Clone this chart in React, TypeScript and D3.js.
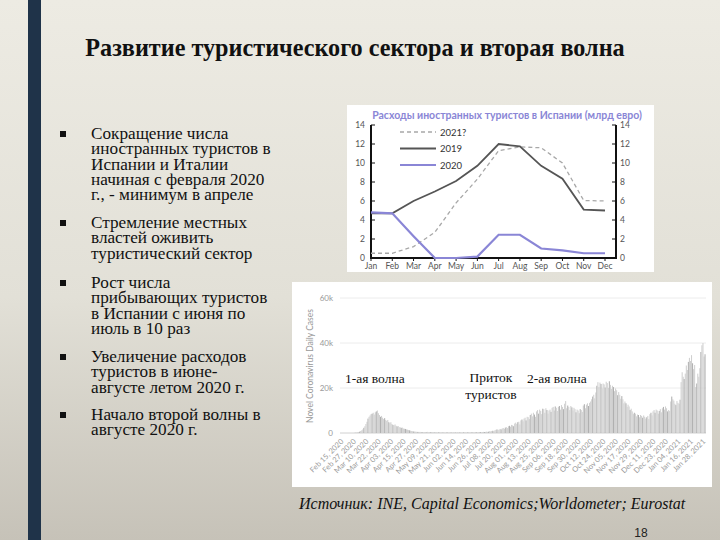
import React from "react";
import * as d3 from "d3";

// ---------- DATA ----------
const months = ["Jan","Feb","Mar","Apr","May","Jun","Jul","Aug","Sep","Oct","Nov","Dec"];
const spend2019 = [4.7,4.7,6.0,7.0,8.1,9.7,12.0,11.75,9.7,8.35,5.1,5.0];
const spend2020 = [4.8,4.7,2.3,0.0,0.0,0.15,2.45,2.45,1.0,0.8,0.5,0.5];
const spend2021 = [0.5,0.5,1.2,2.7,5.8,8.3,11.3,11.7,11.6,10.0,6.05,6.0];
const spendTicks = [0,2,4,6,8,10,12,14];
const legendItems = ["2021?","2019","2020"];

// daily new cases in Spain, thousands, starting Feb 15, 2020
const dailyCases = [
  0,0,0,0,0,0,0,0,0,0,0,0,0.1,0.1,
  0.2,0.3,0.4,0.6,0.9,1.2,1.6,
  2.3,3.0,4.0,5.0,6.4,7.2,7.8,
  8.4,8.6,9.0,8.2,9.2,9.6,10.0,
  8.8,8.0,7.2,7.6,6.8,6.2,6.6,
  5.8,5.4,5.8,4.8,4.4,4.8,4.0,
  3.6,3.4,3.8,3.2,2.9,3.1,2.6,
  2.5,2.3,2.4,2.0,1.9,1.8,1.6,
  1.5,1.3,1.2,1.0,0.9,0.8,0.7,
  0.6,0.6,0.5,0.5,0.4,0.5,0.4,
  0.4,0.3,0.4,0.3,0.3,0.5,0.3,
  0.3,0.3,0.4,0.3,0.3,0.2,0.3,
  0.3,0.2,0.3,0.3,0.2,0.3,0.2,
  0.3,0.2,0.2,0.3,0.2,0.2,0.3,
  0.2,0.2,0.3,0.2,0.2,0.2,0.3,
  0.2,0.2,0.3,0.2,0.2,0.3,0.2,
  0.3,0.2,0.3,0.3,0.2,0.3,0.3,
  0.3,0.3,0.2,0.4,0.3,0.3,0.4,
  0.4,0.3,0.4,0.5,0.4,0.5,0.6,
  0.5,0.6,0.8,0.7,0.9,1.0,0.8,
  1.2,1.4,1.6,1.3,1.5,1.8,1.6,
  2.0,2.2,1.8,2.4,2.6,2.2,3.0,
  3.2,2.8,3.6,3.4,3.0,4.2,4.6,
  4.0,4.8,5.0,3.8,5.6,6.0,5.2,
  6.4,6.8,5.6,7.2,7.0,6.2,8.0,
  8.6,7.4,9.0,8.2,7.2,9.6,10.2,
  8.6,10.4,9.8,8.4,10.8,10.6,9.0,
  11.0,10.2,8.6,10.0,10.4,9.4,11.2,
  11.6,10.0,11.8,11.2,9.8,11.6,12.0,
  10.4,12.4,11.6,10.6,13.0,14.2,11.0,
  12.2,11.6,10.2,12.0,11.4,10.0,11.2,
  10.6,9.2,10.4,10.0,8.8,10.6,10.2,
  9.4,12.2,12.8,11.0,12.6,13.2,12.0,
  13.4,14.0,15.0,16.2,17.0,15.4,18.0,
  21.0,22.6,20.4,22.4,21.8,19.8,22.0,
  21.6,20.2,22.8,22.2,20.0,23.0,21.4,
  19.6,21.0,20.4,18.6,19.8,19.0,16.8,
  18.2,17.0,15.2,16.4,15.0,13.2,14.0,
  13.2,11.6,12.6,11.8,10.2,10.8,9.6,
  8.4,9.0,8.6,7.4,8.2,8.0,7.0,
  8.0,7.6,6.8,7.8,7.2,6.4,7.0,
  7.6,6.2,8.4,9.0,7.8,9.6,10.2,
  9.0,10.4,10.0,8.6,9.8,10.6,9.2,
  11.0,11.6,10.4,11.8,11.0,9.6,10.2,
  9.8,14.0,16.2,15.0,14.4,13.0,12.4,
  14.2,13.4,13.0,14.8,22.6,27.0,25.0,
  24.0,26.4,30.0,28.0,31.6,33.4,32.0,
  34.6,31.0,28.4,30.2,20.4,22.0,26.4,
  25.0,28.8,36.0,39.0,40.0,34.0,35.0,
];
const caseTicks = [0,20,40,60];
const dateLabels = [
  "Feb 15, 2020","Feb 27, 2020","Mar 10, 2020","Mar 22, 2020","Apr 03, 2020","Apr 15, 2020",
  "Apr 27, 2020","May 09, 2020","May 21, 2020","Jun 02, 2020","Jun 14, 2020","Jun 26, 2020",
  "Jul 08, 2020","Jul 20, 2020","Aug 01, 2020","Aug 13, 2020","Aug 25, 2020","Sep 06, 2020",
  "Sep 18, 2020","Sep 30, 2020","Oct 12, 2020","Oct 24, 2020","Nov 05, 2020","Nov 17, 2020",
  "Nov 29, 2020","Dec 11, 2020","Dec 23, 2020","Jan 04, 2021","Jan 16, 2021","Jan 28, 2021",
];
const labelStepDays = 12;

const titleText = "Развитие туристического сектора и вторая волна";
const chartTitle = "Расходы иностранных туристов в Испании (млрд евро)";
const bullets = [
  ["Сокращение числа","иностранных туристов в","Испании и Италии","начиная с февраля 2020","г., - минимум в апреле"],
  ["Стремление местных","властей оживить","туристический сектор"],
  ["Рост числа","прибывающих туристов","в Испании с июня по","июль в 10 раз"],
  ["Увеличение расходов","туристов в июне-","августе летом 2020 г."],
  ["Начало второй волны в","августе 2020 г."],
];
const bulletTops = [134, 223, 283, 357, 415];
const sourceText = "Источник: INE, Capital Economics;Worldometer; Eurostat";
const pageNum = "18";

const serif = "'Liberation Serif', 'Times New Roman', serif";
const sans = "Lato, 'Open Sans', 'Liberation Sans', sans-serif";

export default function App() {
  // top chart scales
  const xm = d3.scalePoint<string>().domain(months).range([371, 605]);
  const ys = d3.scaleLinear().domain([0, 14]).range([258, 125]);
  const line = d3.line<number>().x((_, i) => xm(months[i])!).y((v) => ys(v));

  // bottom chart scales
  const xd = d3.scaleLinear().domain([0, 348]).range([342, 704]);
  const yc = d3.scaleLinear().domain([0, 60]).range([433, 298]);
  const bw = xd(1) - xd(0);

  const legendStyles = [
    { stroke: "#a8a8a8", w: 1.3, dash: "4,3" },
    { stroke: "#555555", w: 1.8, dash: undefined },
    { stroke: "#8a86d6", w: 2.2, dash: undefined },
  ];

  return (
    <svg width={720} height={540} style={{ position: "absolute", left: 0, top: 0 }}>
      <defs>
        <linearGradient id="bg" x1="0" y1="0" x2="0" y2="1">
          <stop offset="0" stopColor="#edebe3" />
          <stop offset="0.55" stopColor="#e2e0d7" />
          <stop offset="1" stopColor="#c6c2b8" />
        </linearGradient>
      </defs>
      <rect x={0} y={0} width={720} height={540} fill="url(#bg)" />
      <rect x={28} y={0} width={13} height={540} fill="#1f3349" />

      <text x={355} y={56} textAnchor="middle" fontFamily={serif} fontWeight="bold" fontSize={24.2} fill="#111">
        {titleText}
      </text>

      {/* bullets */}
      {bullets.map((lines, bi) => (
        <g key={bi}>
          <rect x={60} y={bulletTops[bi] - 3} width={6} height={6} fill="#111" />
          {lines.map((ln, li) => (
            <text key={li} x={91} y={bulletTops[bi] + 5 + li * 15.3} fontFamily={serif} fontSize={17.2} fill="#111">
              {ln}
            </text>
          ))}
        </g>
      ))}

      {/* top chart */}
      <rect x={347} y={105} width={307} height={167} fill="#ffffff" />
      <text x={507} y={119} textAnchor="middle" fontFamily={sans} fontWeight="bold" fontSize={10.5} fill="#8a86d6">
        {chartTitle}
      </text>
      {spendTicks.map((t) => (
        <g key={t}>
          <line x1={371} x2={375} y1={ys(t)} y2={ys(t)} stroke="#111" strokeWidth={1} />
          <line x1={612} x2={616} y1={ys(t)} y2={ys(t)} stroke="#111" strokeWidth={1} />
          <text x={365} y={ys(t) + 3} textAnchor="end" fontFamily={sans} fontSize={8.5} fill="#555">{t}</text>
          <text x={620} y={ys(t) + 3} textAnchor="start" fontFamily={sans} fontSize={8.5} fill="#555">{t}</text>
        </g>
      ))}
      {months.map((m) => (
        <g key={m}>
          <line x1={xm(m)!} x2={xm(m)!} y1={258} y2={261} stroke="#111" strokeWidth={1} />
          <text x={xm(m)!} y={269} textAnchor="middle" fontFamily={sans} fontSize={8.5} fill="#555">{m}</text>
        </g>
      ))}
      <line x1={371} x2={371} y1={125} y2={259} stroke="#111" strokeWidth={2} />
      <line x1={616} x2={616} y1={125} y2={259} stroke="#111" strokeWidth={2} />
      <line x1={370} x2={617} y1={258} y2={258} stroke="#111" strokeWidth={2} />
      <path d={line(spend2021)!} fill="none" stroke="#a8a8a8" strokeWidth={1.3} strokeDasharray="4,3" />
      <path d={line(spend2019)!} fill="none" stroke="#555555" strokeWidth={1.8} />
      <path d={line(spend2020)!} fill="none" stroke="#8a86d6" strokeWidth={2.2} />
      {legendItems.map((name, i) => (
        <g key={name}>
          <line x1={400} x2={436} y1={132 + i * 16.5} y2={132 + i * 16.5}
            stroke={legendStyles[i].stroke} strokeWidth={legendStyles[i].w} strokeDasharray={legendStyles[i].dash} />
          <text x={440} y={135.5 + i * 16.5} fontFamily={sans} fontSize={9.5} fill="#333">{name}</text>
        </g>
      ))}

      {/* bottom chart */}
      <rect x={292} y={282} width={420} height={205} fill="#ffffff" />
      {caseTicks.map((t) => (
        <g key={t}>
          <line x1={340} x2={706} y1={yc(t)} y2={yc(t)} stroke={t === 0 ? "#d0d0d0" : "#ececec"} strokeWidth={1} />
          <text x={333} y={yc(t) + 3} textAnchor="end" fontFamily={sans} fontSize={8} fill="#999">{t === 0 ? "0" : `${t}k`}</text>
        </g>
      ))}
      <text transform="translate(313,366) rotate(-90)" textAnchor="middle" fontFamily={sans} fontSize={8.5} fill="#999">
        Novel Coronavirus Daily Cases
      </text>
      {dailyCases.map((v, i) => (
        <rect key={i} x={xd(i) - bw / 2} y={yc(v)} width={bw} height={yc(0) - yc(v)}
          fill={i % 4 === 1 ? "#b0b0b0" : "#d0d0d0"} />
      ))}
      {dateLabels.map((lab, i) => (
        <text key={lab} transform={`translate(${xd(i * labelStepDays) + 2},442) rotate(-45)`} textAnchor="end"
          fontFamily={sans} fontSize={7.5} fill="#999">{lab}</text>
      ))}
      <text x={345} y={383} fontFamily={serif} fontSize={13.5} fill="#111">1-ая волна</text>
      <text x={491} y={382} textAnchor="middle" fontFamily={serif} fontSize={13.5} fill="#111">Приток</text>
      <text x={491} y={399} textAnchor="middle" fontFamily={serif} fontSize={13.5} fill="#111">туристов</text>
      <text x={527} y={383} fontFamily={serif} fontSize={13.5} fill="#111">2-ая волна</text>

      <text x={299} y={509} fontFamily={serif} fontStyle="italic" fontSize={16} fill="#111">{sourceText}</text>
      <text x={641} y={537} textAnchor="middle" fontFamily="'Liberation Sans', Arial, sans-serif" fontSize={12} fill="#222">{pageNum}</text>
    </svg>
  );
}
